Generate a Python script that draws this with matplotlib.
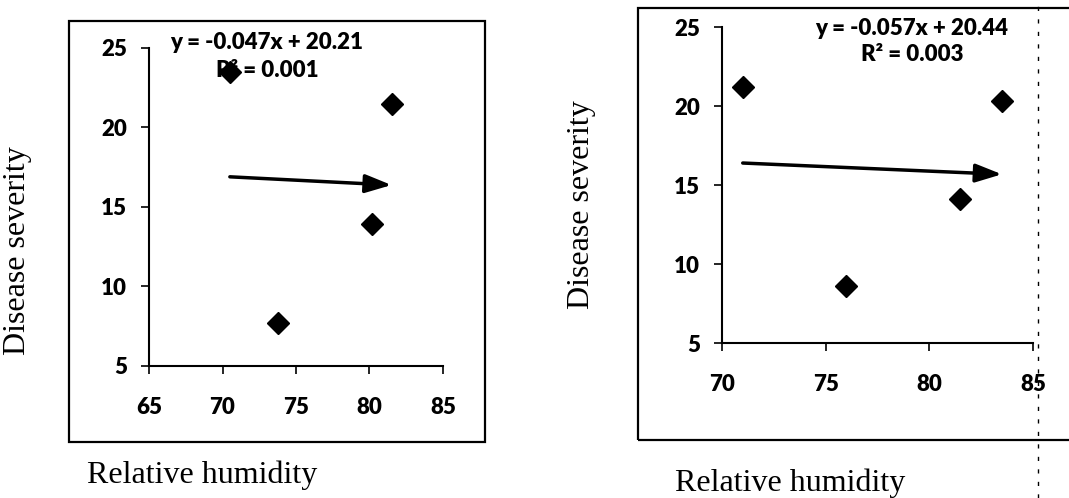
import matplotlib.pyplot as plt
from matplotlib.patches import Rectangle
from matplotlib.lines import Line2D

# panel 1 data
rh_1 = [70.5, 73.8, 80.2, 81.5]
sev_1 = [23.5, 7.7, 13.9, 21.5]
slope_1, icpt_1, r2_1 = -0.047, 20.21, 0.001

# panel 2 data
rh_2 = [71.0, 76.0, 81.5, 83.5]
sev_2 = [21.2, 8.6, 14.1, 20.3]
slope_2, icpt_2, r2_2 = -0.057, 20.44, 0.003

plt.rcParams['font.family'] = 'Lato'
plt.rcParams['font.weight'] = 'heavy'
plt.rcParams['font.size'] = 16

serif = dict(family='Liberation Serif', weight='normal', size=23)

fig = plt.figure(figsize=(10.69, 4.98), dpi=100)

# outer chart-area boxes
fig.patches.append(Rectangle((0.0645, 0.1124), 0.3892, 0.8454, transform=fig.transFigure,
                             fill=False, lw=1.6, ec='black'))
fig.patches.append(Rectangle((0.5968, 0.1165), 0.5, 0.8675, transform=fig.transFigure,
                             fill=False, lw=1.6, ec='black'))


def panel(rect, x, y, slope, icpt, xlim, xticks):
    ax = fig.add_axes(rect)
    ax.set_xlim(*xlim)
    ax.set_ylim(5, 25)
    ax.set_xticks(xticks)
    ax.set_yticks([5, 10, 15, 20, 25])
    for s in ['top', 'right']:
        ax.spines[s].set_visible(False)
    for s in ['left', 'bottom']:
        ax.spines[s].set_linewidth(1.5)
    ax.tick_params(axis='y', direction='out', length=6, width=1.2, pad=10)
    ax.tick_params(axis='x', direction='out', length=6, width=1.2, pad=16)
    ax.patch.set_alpha(0)
    ax.plot(x, y, 'D', color='black', ms=11, zorder=5, clip_on=False)
    x0, x1 = min(x), max(x)
    ax.annotate('', xy=(x1, slope * x1 + icpt), xytext=(x0, slope * x0 + icpt),
                arrowprops=dict(arrowstyle='-|>,head_length=1.0,head_width=0.35',
                                color='black', lw=2.5, shrinkA=0, shrinkB=0))
    return ax


ax1 = panel([0.1394, 0.2651, 0.2750, 0.6386], rh_1, sev_1, slope_1, icpt_1,
            (65, 85), [65, 70, 75, 80, 85])
ax2 = panel([0.6754, 0.3112, 0.2909, 0.6345], rh_2, sev_2, slope_2, icpt_2,
            (70, 85), [70, 75, 80, 85])

fig.text(0.2493, 0.9137, f'y = {slope_1}x + {icpt_1}', ha='center', va='center', zorder=1)
fig.text(0.2500, 0.8590, f'R² = {r2_1}', ha='center', va='center', zorder=1)
fig.text(0.8527, 0.9418, f'y = {slope_2}x + {icpt_2}', ha='center', va='center')
fig.text(0.8531, 0.8896, f'R² = {r2_2}', ha='center', va='center')

fig.text(0.0168, 0.496, 'Disease severity', rotation=90, ha='center', va='center', **serif)
fig.text(0.5444, 0.590, 'Disease severity', rotation=90, ha='center', va='center', **serif)
fig.text(0.1894, 0.045, 'Relative humidity', ha='center', va='center', **serif)
fig.text(0.7395, 0.030, 'Relative humidity', ha='center', va='center', **serif)

# scan artefact: dotted vertical line on the right
fig.lines.append(Line2D([0.971, 0.971], [0.0, 1.0], transform=fig.transFigure,
                        color='black', lw=1, ls=(0, (3, 6))))

fig.savefig('out.png', dpi=100)
